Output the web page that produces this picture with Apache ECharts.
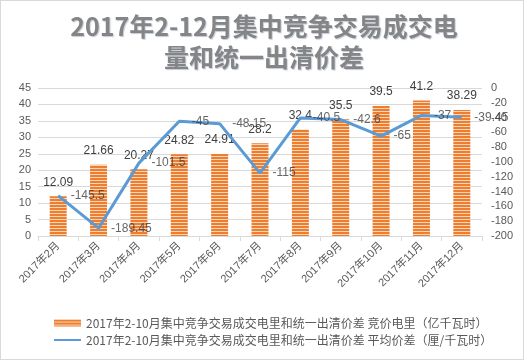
<!DOCTYPE html>
<html><head><meta charset="utf-8">
<script src="https://cdn.jsdelivr.net/npm/echarts@6/dist/echarts.min.js"></script>
<style>html,body{margin:0;padding:0;background:#fff}#c{width:522px;height:358px;border:1px solid #d9d9d9}</style>
</head><body><div id="c"></div>
<script>
var categories = ['2017年2月','2017年3月','2017年4月','2017年5月','2017年6月','2017年7月','2017年8月','2017年9月','2017年10月','2017年11月','2017年12月'];
var volume = [12.09,21.66,20.27,24.82,24.91,28.2,32.4,35.5,39.5,41.2,38.29];
var spread = [-145.5,-189.45,-101.5,-45,-48.15,-115,-40.5,-42.6,-65,-37,-39.45];
var leftTicks = {min:0,max:45,interval:5};
var rightTicks = {min:-200,max:0,interval:20};
var titleText = '2017年2-12月集中竞争交易成交电\n量和统一出清价差';
var barName = '2017年2-10月集中竞争交易成交电里和统一出清价差 竞价电里（亿千瓦时）';
var lineName = '2017年2-10月集中竞争交易成交电里和统一出清价差 平均价差（厘/千瓦时）';

var cv = document.createElement('canvas'); cv.width = 4; cv.height = 3;
var cx = cv.getContext('2d');
cx.fillStyle = '#ee7e2f'; cx.fillRect(0,0,4,2);
cx.fillStyle = '#fbd5b8'; cx.fillRect(0,2,4,1);
var pattern = {image: cv, repeat: 'repeat'};

var chart = echarts.init(document.getElementById('c'));
chart.setOption({
  animation:false,
  textStyle:{fontFamily:'Liberation Sans, "Noto Sans CJK SC", sans-serif'},
  title:{text:titleText, left:258, textAlign:'center', top:5,
    textStyle:{fontSize:25, fontWeight:'bold', color:'#858585', lineHeight:31,
      fontFamily:'"Noto Sans CJK SC", sans-serif',
      textShadowColor:'rgba(120,140,170,0.45)', textShadowBlur:1, textShadowOffsetX:1, textShadowOffsetY:1}},
  legend:{orient:'vertical', left:47, top:311, itemWidth:27, itemHeight:7, itemGap:5,
    textStyle:{fontSize:12, color:'#595959', fontFamily:'"Noto Sans CJK SC", sans-serif'},
    data:[{name:barName, icon:'rect'},{name:lineName, itemStyle:{opacity:0}}]},
  grid:{left:37, right:41, top:87, bottom:123, containLabel:false},
  xAxis:{type:'category', data:categories, boundaryGap:true,
    axisLine:{lineStyle:{color:'#d9d9d9'}},
    axisTick:{show:true, length:5, lineStyle:{color:'#d9d9d9'}},
    axisLabel:{rotate:45, fontSize:11, color:'#595959', margin:8, interval:0}},
  yAxis:[
    {type:'value', min:leftTicks.min, max:leftTicks.max, interval:leftTicks.interval,
     axisLine:{show:false}, axisTick:{show:false},
     axisLabel:{fontSize:11, color:'#595959', margin:7},
     splitLine:{lineStyle:{color:'#d9d9d9'}}},
    {type:'value', min:rightTicks.min, max:rightTicks.max, interval:rightTicks.interval,
     axisLine:{show:false}, axisTick:{show:false},
     axisLabel:{fontSize:11, color:'#595959', margin:9},
     splitLine:{show:false}}
  ],
  series:[
    {name:barName, type:'bar', data:volume, barWidth:17, yAxisIndex:0,
     itemStyle:{color:pattern},
     label:{show:true, position:'top', fontSize:12, color:'#404040', distance:8}},
    {name:lineName, type:'line', data:spread, yAxisIndex:1, symbol:'none', z:5,
     lineStyle:{color:'#5b9bd5', width:3}, itemStyle:{color:'#5b9bd5'}},
    {name:'labels', type:'scatter', data:spread, yAxisIndex:1, symbolSize:1, z:6,
     itemStyle:{color:'rgba(0,0,0,0)'}, silent:true,
     label:{show:true, position:'right', fontSize:12, color:'#404040', distance:12}}
  ]
});
</script></body></html>
